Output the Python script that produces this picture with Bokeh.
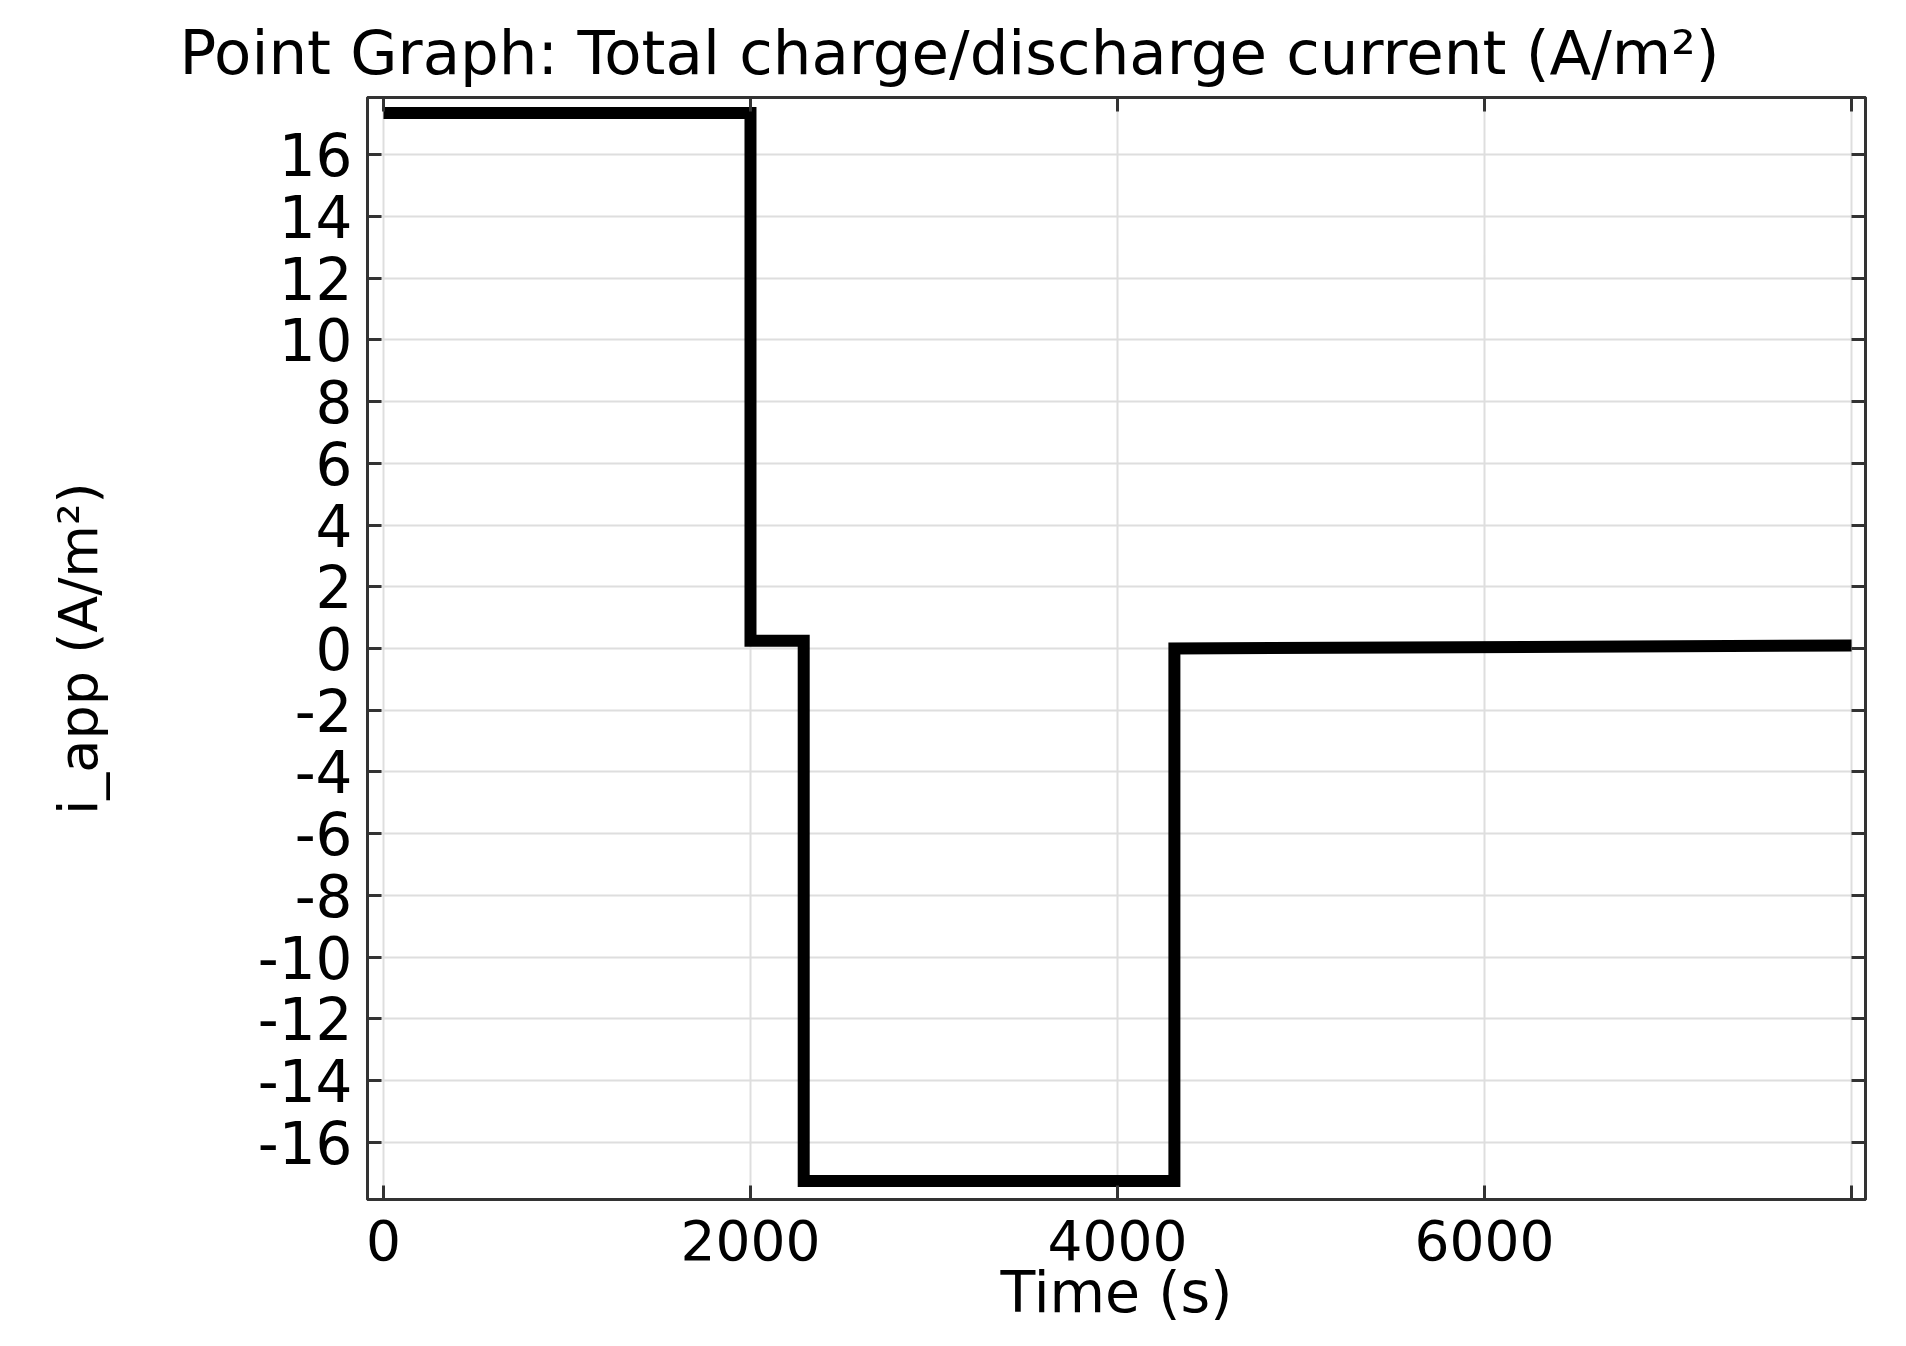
from bokeh.plotting import figure
from bokeh.models import Range1d, LinearAxis, FixedTicker, Title
from bokeh.embed import file_html
from bokeh.resources import INLINE

# Data (step-wise applied current)
time_s = [0, 2000, 2000, 2290, 2290, 4310, 4310, 8000]
i_app = [17.35, 17.35, 0.25, 0.25, -17.25, -17.25, 0.0, 0.1]

x_ticks = [0, 2000, 4000, 6000, 8000]
y_ticks = list(range(-16, 17, 2))

FONT = "DejaVu Sans"

p = figure(width=1890, height=1330, output_backend="svg", toolbar_location=None,
           x_range=Range1d(-87, 8076), y_range=Range1d(-17.85, 17.85),
           min_border_left=367, min_border_right=25, min_border_top=97, min_border_bottom=131,
           background_fill_color="white", border_fill_color="white")

p.title = Title(text="Point Graph: Total charge/discharge current (A/m²)",
                text_font=FONT, text_font_size="61px", standoff=19,
                text_font_style="normal", text_color="black", align="left", offset=-188)

p.outline_line_color = "#333333"
p.outline_line_width = 3

for ax in (p.xaxis[0], p.yaxis[0]):
    ax.axis_line_color = "#333333"
    ax.axis_line_width = 3
    ax.major_tick_in = 14
    ax.major_tick_out = 0
    ax.minor_tick_in = 0
    ax.minor_tick_out = 0
    ax.major_tick_line_color = "#333333"
    ax.major_tick_line_width = 3
    ax.major_label_text_font = FONT
    ax.major_label_text_color = "black"
    ax.axis_label_text_font = FONT
    ax.axis_label_text_font_style = "normal"
    ax.axis_label_text_color = "black"

p.xaxis[0].ticker = FixedTicker(ticks=x_ticks)
p.xaxis[0].major_label_overrides = {8000: ""}
p.xaxis[0].major_label_text_font_size = "55px"
p.xaxis[0].major_label_standoff = 20
p.xaxis[0].axis_label = "Time (s)"
p.xaxis[0].axis_label_text_font_size = "57px"
p.xaxis[0].axis_label_standoff = -4

p.yaxis[0].ticker = FixedTicker(ticks=y_ticks)
p.yaxis[0].major_label_overrides = {v: str(v) for v in y_ticks}
p.yaxis[0].major_label_text_font_size = "58px"
p.yaxis[0].axis_label = "i_app (A/m²)"
p.yaxis[0].axis_label_text_font_size = "54px"
p.yaxis[0].major_label_standoff = 15
p.yaxis[0].axis_label_standoff = 145

for loc, ticks in (("right", y_ticks), ("above", x_ticks)):
    ax = LinearAxis(ticker=FixedTicker(ticks=ticks))
    ax.major_label_text_font_size = "0px"
    ax.major_label_text_alpha = 0
    ax.axis_line_color = "#333333"
    ax.axis_line_width = 3
    ax.major_tick_in = 14
    ax.major_tick_out = 0
    ax.minor_tick_in = 0
    ax.minor_tick_out = 0
    ax.major_tick_line_color = "#333333"
    ax.major_tick_line_width = 3
    p.add_layout(ax, loc)

p.xgrid[0].ticker = FixedTicker(ticks=x_ticks)
p.ygrid[0].ticker = FixedTicker(ticks=y_ticks)
for g in (p.xgrid[0], p.ygrid[0]):
    g.grid_line_color = "#dedede"
    g.grid_line_width = 2

p.line(time_s, i_app, line_color="black", line_width=12, line_join="miter", line_cap="butt")

open("out.html", "w").write(file_html(p, INLINE))
